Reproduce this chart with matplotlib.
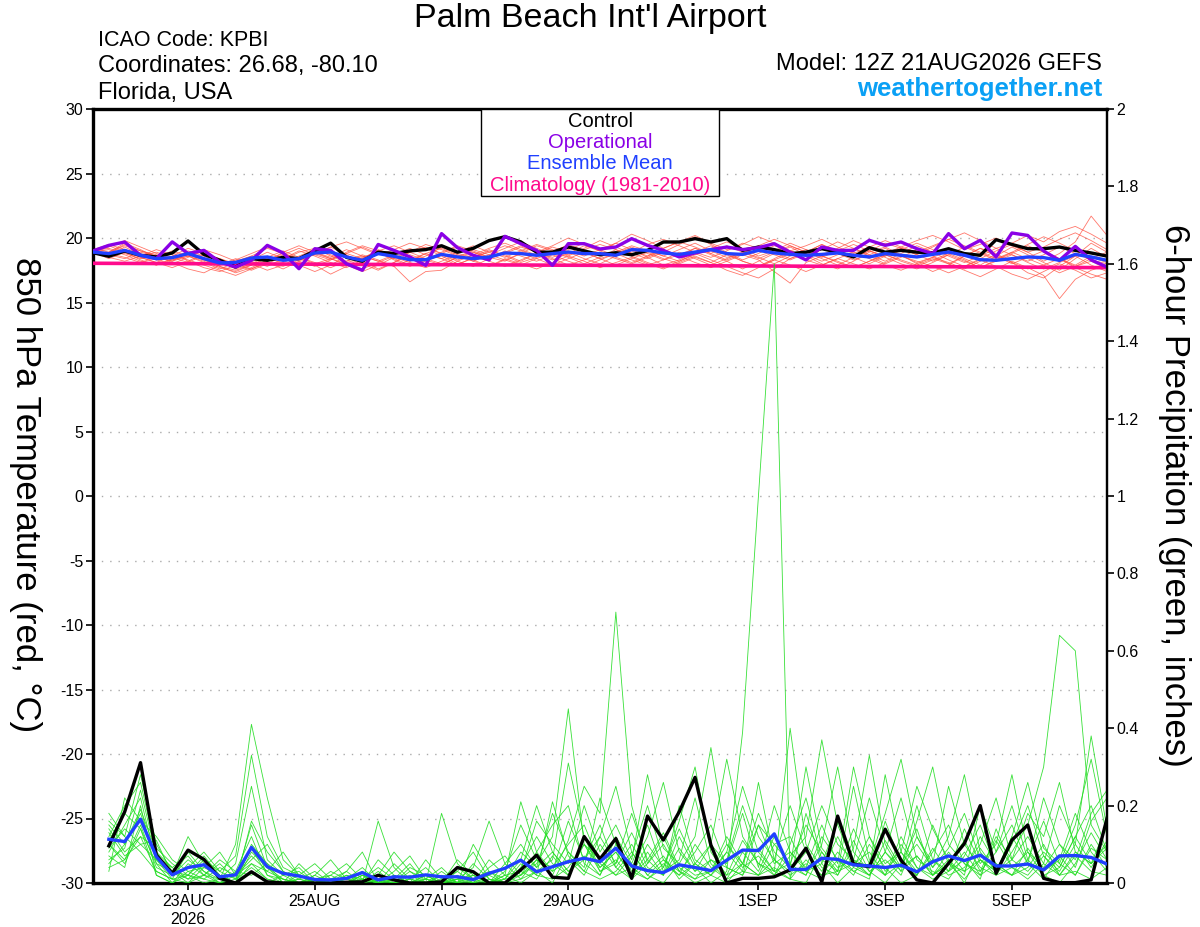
import numpy as np
import pandas as pd
import matplotlib
matplotlib.use("Agg")
import matplotlib.pyplot as plt
from matplotlib.patches import Rectangle

plt.rcParams['font.family'] = ['Liberation Sans', 'DejaVu Sans']

# ---------------- data ----------------
temp_times = pd.date_range("2026-08-21 12:00", periods=65, freq="6h")
precip_times = pd.date_range("2026-08-21 18:00", periods=64, freq="6h")
clim_times = pd.date_range("2026-08-21 12:00", periods=17, freq="24h")

tick_dates = pd.to_datetime(["2026-08-23", "2026-08-25", "2026-08-27", "2026-08-29",
                             "2026-09-01", "2026-09-03", "2026-09-05"])
tick_labels = ["23AUG\n2026", "25AUG", "27AUG", "29AUG", "1SEP", "3SEP", "5SEP"]

temp_control = [
    18.86, 18.58, 18.99, 18.66, 18.53, 18.84, 19.77, 18.73, 18.27, 17.75, 18.40, 18.27, 18.50,
    18.40, 19.00, 19.60, 18.50, 18.20, 18.90, 18.80, 19.00, 19.10, 19.40, 18.90, 19.20, 19.80,
    20.10, 19.70, 18.90, 18.90, 19.30, 19.00, 18.70, 18.86, 18.70, 19.04, 19.69, 19.69, 19.95,
    19.69, 19.95, 19.04, 19.30, 19.10, 18.79, 18.90, 19.17, 18.90, 18.53, 19.25, 18.90, 19.04,
    18.90, 18.84, 19.17, 18.79, 18.66, 19.87, 19.50, 19.17, 19.17, 19.30, 19.04, 18.84, 18.60]

temp_operational = [
    19.00, 19.43, 19.69, 18.66, 18.40, 19.70, 18.80, 19.04, 18.14, 17.75, 18.27, 19.43, 18.84,
    17.62, 19.17, 19.04, 18.00, 17.50, 19.50, 19.04, 18.53, 17.88, 20.34, 19.25, 18.66, 18.30,
    20.13, 19.56, 19.04, 17.88, 19.56, 19.56, 19.15, 19.30, 19.95, 19.43, 19.04, 18.53, 18.84,
    19.10, 19.30, 19.10, 19.25, 19.56, 18.90, 18.30, 19.30, 19.04, 19.04, 19.82, 19.43, 19.69,
    19.17, 18.79, 20.34, 19.17, 19.82, 18.53, 20.39, 20.20, 18.99, 18.27, 19.35, 18.30, 17.75]

temp_mean = [
    18.91, 18.79, 19.04, 18.66, 18.40, 18.48, 18.79, 18.40, 18.06, 18.11, 18.45, 18.53, 18.27,
    18.40, 18.84, 18.91, 18.53, 18.27, 18.79, 18.58, 18.32, 18.32, 18.73, 18.53, 18.40, 18.53,
    18.84, 18.79, 18.66, 18.79, 18.91, 18.79, 18.79, 18.66, 19.10, 19.04, 18.84, 18.73, 18.91,
    19.10, 18.79, 18.73, 19.04, 18.84, 18.73, 18.66, 18.73, 18.84, 18.66, 18.53, 18.79, 18.66,
    18.53, 18.73, 18.91, 18.66, 18.32, 18.27, 18.40, 18.53, 18.48, 18.27, 18.73, 18.53, 18.27]

temp_climatology = [18.04, 18.02, 18.00, 17.98, 17.96, 17.94, 17.92, 17.90, 17.88,
                    17.86, 17.84, 17.82, 17.80, 17.78, 17.76, 17.73, 17.70]

temp_member_01 = [
    18.8, 18.6, 19.3, 18.7, 18.3, 18.0, 18.5, 19.0, 18.2, 17.6, 18.0, 18.6, 18.3,
    18.9, 19.2, 18.6, 18.1, 18.4, 19.1, 18.7, 18.2, 18.6, 19.3, 18.8, 18.5, 18.9,
    19.4, 19.0, 18.6, 18.9, 19.5, 19.0, 18.7, 18.9, 19.4, 19.0, 18.6, 19.1, 19.6,
    19.0, 18.5, 18.8, 19.3, 18.9, 18.4, 18.9, 19.5, 18.8, 18.3, 18.7, 19.2, 18.6,
    18.1, 18.5, 19.0, 18.4, 17.9, 18.6, 19.3, 18.7, 18.1, 17.5, 18.4, 19.2, 18.5]
temp_member_02 = [
    19.0, 19.2, 18.8, 18.4, 18.6, 18.9, 18.2, 17.7, 17.4, 17.9, 18.5, 18.1, 17.6,
    18.2, 18.8, 19.3, 18.7, 18.0, 17.5, 18.1, 18.9, 19.2, 18.6, 18.0, 18.4, 19.0,
    18.7, 18.2, 18.8, 19.3, 18.9, 18.4, 18.0, 18.6, 19.1, 18.5, 17.9, 18.3, 18.9,
    19.4, 18.8, 18.2, 17.8, 18.4, 19.0, 18.6, 18.0, 17.6, 18.2, 18.9, 19.3, 18.7,
    18.0, 17.4, 17.9, 18.6, 19.2, 18.8, 18.1, 17.3, 16.9, 17.8, 18.6, 19.6, 18.9]
temp_member_03 = [
    18.7, 18.9, 19.6, 19.1, 18.5, 18.2, 18.9, 18.4, 17.8, 17.3, 17.7, 18.3, 18.8,
    18.4, 17.9, 17.2, 17.8, 18.5, 18.9, 18.3, 17.8, 18.3, 18.9, 19.4, 19.0, 18.5,
    18.2, 18.8, 19.4, 19.0, 18.6, 19.2, 19.8, 19.3, 18.8, 18.4, 18.9, 19.5, 20.1,
    19.5, 18.9, 18.3, 18.8, 19.4, 19.0, 18.6, 19.1, 19.7, 19.2, 18.7, 18.2, 18.8,
    19.4, 18.9, 18.3, 17.8, 18.4, 19.0, 19.5, 18.9, 18.2, 18.8, 19.7, 21.7, 20.2]
temp_member_04 = [
    18.9, 18.4, 18.9, 18.3, 17.9, 18.4, 19.0, 18.6, 18.0, 17.8, 18.3, 18.9, 18.4,
    17.9, 17.4, 17.9, 18.6, 18.2, 17.6, 18.1, 18.7, 18.3, 17.9, 18.5, 19.1, 18.7,
    18.3, 17.9, 18.4, 18.9, 18.5, 18.0, 18.5, 19.1, 18.6, 18.1, 17.7, 18.2, 18.8,
    18.3, 17.8, 17.3, 16.9, 17.6, 18.4, 18.9, 18.4, 17.9, 18.5, 19.0, 18.5, 18.0,
    17.6, 18.1, 18.7, 18.2, 17.7, 18.3, 18.9, 18.4, 17.9, 17.3, 17.8, 18.2, 17.6]
temp_member_05 = [
    19.1, 19.5, 19.1, 18.6, 18.9, 18.5, 18.1, 18.7, 18.4, 18.0, 17.6, 18.2, 18.9,
    19.4, 18.9, 18.4, 18.8, 19.3, 18.8, 18.4, 18.9, 19.5, 19.1, 18.6, 18.2, 18.7,
    19.2, 19.7, 19.2, 18.7, 19.1, 19.6, 19.1, 18.6, 18.9, 19.5, 19.9, 19.4, 18.9,
    18.5, 19.0, 19.6, 19.2, 18.7, 18.3, 18.8, 19.3, 18.9, 18.5, 19.0, 19.6, 19.2,
    18.7, 19.3, 19.9, 19.4, 18.9, 18.4, 18.9, 19.5, 20.1, 19.6, 19.0, 18.5, 18.1]
temp_member_06 = [
    18.8, 18.7, 18.4, 18.9, 18.6, 18.1, 17.6, 17.3, 17.9, 18.4, 18.0, 17.5, 17.9,
    18.5, 18.1, 17.7, 18.2, 18.7, 18.3, 17.8, 16.6, 17.4, 17.5, 18.2, 18.7, 18.2,
    17.8, 18.3, 18.8, 18.4, 17.9, 18.3, 18.8, 18.4, 18.0, 18.5, 19.0, 18.6, 18.1,
    17.7, 18.2, 18.7, 18.3, 17.4, 16.5, 18.1, 18.6, 18.2, 17.7, 18.2, 18.7, 18.3,
    17.9, 18.4, 18.0, 17.5, 17.0, 17.6, 18.2, 17.7, 17.1, 15.3, 16.8, 17.5, 17.9]
temp_member_07 = [
    19.2, 18.9, 19.4, 19.0, 18.7, 18.3, 18.6, 19.1, 18.7, 18.2, 18.6, 19.2, 18.8,
    18.3, 18.7, 19.3, 19.7, 19.2, 18.7, 19.1, 19.6, 19.2, 18.8, 19.3, 18.9, 18.4,
    18.8, 19.3, 18.9, 19.4, 20.0, 19.5, 19.0, 19.6, 20.3, 19.8, 19.2, 19.7, 20.2,
    19.6, 19.1, 19.5, 20.1, 19.6, 19.0, 19.4, 19.9, 19.3, 18.8, 19.3, 19.8, 19.3,
    18.9, 19.4, 19.9, 20.4, 19.8, 19.2, 19.6, 20.2, 19.7, 20.5, 20.9, 20.3, 19.6]
temp_member_08 = [
    18.9, 18.5, 18.2, 18.6, 19.1, 18.7, 18.3, 17.9, 17.5, 17.1, 17.6, 18.1, 17.8,
    18.3, 18.8, 18.4, 17.9, 17.4, 17.9, 18.5, 18.1, 17.7, 18.2, 18.7, 18.3, 17.8,
    18.4, 18.0, 17.6, 18.1, 18.6, 18.2, 17.7, 18.1, 18.5, 18.0, 17.6, 18.1, 18.6,
    18.1, 17.5, 17.1, 17.7, 18.3, 17.9, 17.4, 17.9, 18.4, 18.0, 17.6, 18.1, 18.6,
    18.2, 17.8, 17.3, 17.8, 18.3, 17.8, 17.2, 16.8, 17.4, 18.0, 17.5, 16.9, 17.3]
temp_member_09 = [
    18.9, 19.3, 19.8, 19.3, 18.8, 18.4, 18.8, 18.3, 17.9, 18.3, 18.8, 19.3, 18.8,
    18.4, 18.9, 18.5, 19.1, 18.6, 18.2, 18.7, 19.2, 18.7, 18.4, 18.9, 19.4, 18.9,
    18.5, 19.0, 19.5, 19.1, 18.7, 19.1, 19.5, 19.1, 18.6, 19.1, 18.6, 18.2, 18.7,
    19.2, 19.7, 19.2, 18.6, 19.0, 19.6, 19.1, 18.7, 19.2, 19.8, 19.3, 18.8, 19.3,
    19.8, 20.2, 19.7, 19.1, 19.5, 20.0, 19.4, 18.9, 19.3, 19.9, 20.4, 19.8, 19.1]
temp_member_10 = [
    18.8, 18.6, 19.0, 18.5, 18.1, 17.7, 18.2, 18.8, 18.3, 17.8, 18.2, 17.8, 18.4,
    19.0, 18.6, 18.1, 17.7, 18.3, 18.9, 18.4, 17.9, 18.2, 18.7, 18.2, 17.8, 18.4,
    19.0, 18.6, 18.2, 18.7, 18.2, 17.8, 18.3, 18.8, 18.3, 17.9, 18.3, 18.9, 18.4,
    17.9, 18.4, 18.9, 18.5, 18.0, 18.6, 19.1, 18.6, 18.1, 17.7, 18.2, 18.7, 18.2,
    17.8, 18.3, 18.8, 18.3, 17.7, 18.2, 18.7, 18.1, 17.6, 18.1, 18.6, 17.9, 17.4]
temp_member_11 = [
    19.0, 19.4, 18.9, 18.5, 18.1, 18.6, 19.2, 18.8, 18.4, 17.9, 17.5, 18.0, 18.6,
    18.2, 17.8, 18.3, 18.9, 19.4, 19.0, 18.5, 18.9, 19.3, 18.8, 18.3, 18.7, 19.2,
    19.6, 19.1, 18.7, 18.3, 18.8, 19.4, 19.0, 18.5, 18.1, 18.6, 19.2, 19.7, 19.3,
    18.8, 18.3, 18.8, 19.4, 19.9, 19.4, 18.9, 18.5, 19.0, 19.5, 19.0, 18.6, 19.1,
    19.6, 19.1, 18.6, 18.1, 18.6, 19.2, 18.7, 18.2, 18.7, 19.3, 18.8, 18.3, 18.0]
temp_member_12 = [
    18.9, 18.8, 18.5, 18.1, 18.5, 19.0, 18.6, 18.2, 17.7, 17.4, 17.9, 18.5, 19.0,
    18.5, 18.0, 18.4, 18.0, 17.6, 18.1, 18.6, 18.2, 18.8, 19.2, 18.7, 18.2, 17.8,
    18.3, 18.8, 18.4, 17.9, 18.4, 18.9, 18.4, 17.9, 18.4, 18.9, 18.4, 18.0, 18.5,
    18.1, 18.7, 18.2, 17.8, 18.3, 18.8, 18.3, 17.9, 18.4, 18.9, 18.4, 17.9, 17.5,
    18.0, 18.5, 18.1, 17.6, 18.2, 18.7, 18.1, 17.6, 17.9, 18.4, 17.7, 17.2, 16.8]
temp_member_13 = [
    18.9, 19.1, 18.7, 18.2, 17.9, 18.3, 18.7, 18.3, 17.8, 17.5, 17.9, 18.4, 18.1,
    18.6, 19.1, 18.7, 18.2, 18.6, 18.2, 17.8, 18.3, 18.8, 18.4, 17.9, 18.5, 19.1,
    18.6, 18.1, 18.5, 19.0, 19.4, 18.9, 18.4, 18.8, 19.3, 18.8, 18.3, 18.7, 19.2,
    18.7, 18.2, 17.6, 18.2, 18.8, 19.3, 18.7, 18.2, 18.7, 19.2, 18.6, 18.0, 18.5,
    19.1, 18.6, 18.0, 18.6, 19.2, 18.6, 18.0, 18.5, 19.0, 18.4, 17.8, 18.4, 18.9]
temp_member_14 = [
    19.1, 18.8, 19.5, 19.0, 18.6, 18.2, 18.6, 18.1, 17.6, 18.1, 18.6, 18.2, 18.7,
    19.2, 18.7, 18.3, 18.8, 18.4, 19.0, 19.4, 18.9, 18.4, 18.0, 18.5, 18.9, 18.5,
    18.9, 19.4, 18.9, 18.5, 19.0, 18.6, 19.1, 19.6, 19.1, 18.6, 19.1, 18.6, 19.2,
    18.8, 19.4, 18.9, 18.4, 18.9, 19.4, 18.9, 19.5, 19.0, 18.5, 18.0, 18.6, 19.2,
    18.7, 18.2, 18.7, 19.3, 18.8, 18.3, 18.8, 19.4, 18.9, 18.4, 17.9, 18.6, 18.2]

precip_control = [
    0.096, 0.184, 0.311, 0.072, 0.025, 0.085, 0.061, 0.012, 0.000, 0.029, 0.003, 0.000, 0.000, 0.000, 0.000, 0.002,
    0.003, 0.020, 0.008, 0.000, 0.000, 0.003, 0.040, 0.029, 0.000, 0.000, 0.034, 0.072, 0.015, 0.012, 0.120, 0.062,
    0.115, 0.012, 0.173, 0.111, 0.184, 0.273, 0.098, 0.000, 0.012, 0.012, 0.016, 0.034, 0.090, 0.003, 0.173, 0.049,
    0.042, 0.139, 0.059, 0.008, 0.000, 0.051, 0.102, 0.200, 0.025, 0.111, 0.150, 0.012, 0.001, 0.001, 0.008, 0.167]

precip_mean = [
    0.113, 0.107, 0.165, 0.068, 0.021, 0.040, 0.047, 0.016, 0.021, 0.092, 0.042, 0.025, 0.018, 0.009, 0.008, 0.012,
    0.027, 0.008, 0.016, 0.015, 0.021, 0.016, 0.016, 0.009, 0.025, 0.038, 0.059, 0.029, 0.042, 0.055, 0.064, 0.055,
    0.090, 0.044, 0.032, 0.027, 0.047, 0.040, 0.032, 0.059, 0.085, 0.084, 0.127, 0.035, 0.035, 0.064, 0.061, 0.047,
    0.044, 0.040, 0.046, 0.029, 0.055, 0.070, 0.058, 0.072, 0.044, 0.044, 0.049, 0.034, 0.070, 0.071, 0.066, 0.049]

precip_member_01 = [
    0.12, 0.20, 0.26, 0.08, 0.02, 0.06, 0.03, 0.00, 0.01, 0.15, 0.04, 0.00, 0.00, 0.01, 0.00, 0.00,
    0.02, 0.00, 0.01, 0.05, 0.00, 0.00, 0.03, 0.08, 0.01, 0.00, 0.04, 0.12, 0.05, 0.02, 0.10, 0.03,
    0.06, 0.01, 0.08, 0.02, 0.12, 0.04, 0.00, 0.03, 0.39, 1.00, 1.60, 0.01, 0.00, 0.08, 0.02, 0.11,
    0.03, 0.00, 0.05, 0.14, 0.02, 0.06, 0.00, 0.09, 0.03, 0.12, 0.05, 0.01, 0.07, 0.02, 0.10, 0.04]
precip_member_02 = [
    0.08, 0.15, 0.22, 0.05, 0.00, 0.02, 0.07, 0.02, 0.00, 0.05, 0.01, 0.00, 0.02, 0.00, 0.03, 0.01,
    0.00, 0.00, 0.02, 0.00, 0.06, 0.01, 0.00, 0.02, 0.00, 0.05, 0.10, 0.04, 0.08, 0.03, 0.06, 0.15,
    0.04, 0.10, 0.03, 0.07, 0.01, 0.05, 0.02, 0.00, 0.05, 0.15, 0.10, 0.12, 0.03, 0.01, 0.06, 0.02,
    0.10, 0.04, 0.00, 0.02, 0.08, 0.15, 0.05, 0.02, 0.11, 0.04, 0.08, 0.02, 0.00, 0.05, 0.13, 0.06]
precip_member_03 = [
    0.18, 0.12, 0.28, 0.10, 0.03, 0.00, 0.02, 0.05, 0.01, 0.09, 0.02, 0.01, 0.00, 0.00, 0.02, 0.05,
    0.01, 0.00, 0.00, 0.03, 0.01, 0.00, 0.06, 0.02, 0.00, 0.03, 0.15, 0.06, 0.02, 0.11, 0.25, 0.18,
    0.70, 0.20, 0.05, 0.12, 0.03, 0.08, 0.15, 0.04, 0.02, 0.09, 0.03, 0.01, 0.18, 0.05, 0.00, 0.04,
    0.12, 0.03, 0.08, 0.02, 0.15, 0.05, 0.01, 0.06, 0.03, 0.10, 0.20, 0.07, 0.02, 0.08, 0.05, 0.10]
precip_member_04 = [
    0.05, 0.10, 0.18, 0.06, 0.01, 0.08, 0.03, 0.01, 0.10, 0.41, 0.22, 0.06, 0.02, 0.00, 0.01, 0.00,
    0.03, 0.00, 0.00, 0.01, 0.04, 0.00, 0.02, 0.00, 0.01, 0.00, 0.02, 0.05, 0.12, 0.45, 0.10, 0.04,
    0.08, 0.02, 0.06, 0.13, 0.04, 0.01, 0.03, 0.10, 0.05, 0.02, 0.06, 0.20, 0.08, 0.03, 0.12, 0.04,
    0.02, 0.08, 0.22, 0.06, 0.03, 0.01, 0.07, 0.15, 0.04, 0.02, 0.09, 0.03, 0.06, 0.18, 0.08, 0.03]
precip_member_05 = [
    0.10, 0.06, 0.15, 0.04, 0.02, 0.12, 0.05, 0.02, 0.00, 0.16, 0.08, 0.03, 0.01, 0.00, 0.00, 0.02,
    0.00, 0.06, 0.02, 0.00, 0.01, 0.04, 0.00, 0.10, 0.03, 0.01, 0.06, 0.20, 0.08, 0.03, 0.07, 0.02,
    0.12, 0.05, 0.15, 0.03, 0.06, 0.22, 0.05, 0.01, 0.08, 0.03, 0.12, 0.04, 0.02, 0.10, 0.30, 0.08,
    0.03, 0.06, 0.02, 0.12, 0.05, 0.25, 0.10, 0.04, 0.02, 0.08, 0.15, 0.30, 0.64, 0.60, 0.15, 0.08]
precip_member_06 = [
    0.14, 0.08, 0.12, 0.09, 0.05, 0.02, 0.06, 0.03, 0.07, 0.33, 0.12, 0.04, 0.02, 0.05, 0.01, 0.00,
    0.00, 0.02, 0.08, 0.03, 0.00, 0.01, 0.03, 0.00, 0.04, 0.07, 0.02, 0.06, 0.04, 0.10, 0.15, 0.05,
    0.02, 0.07, 0.20, 0.06, 0.02, 0.05, 0.10, 0.32, 0.12, 0.05, 0.02, 0.07, 0.12, 0.37, 0.15, 0.05,
    0.08, 0.02, 0.05, 0.10, 0.04, 0.12, 0.28, 0.08, 0.03, 0.06, 0.12, 0.05, 0.20, 0.10, 0.38, 0.14]
precip_member_07 = [
    0.03, 0.22, 0.16, 0.12, 0.06, 0.03, 0.01, 0.04, 0.02, 0.06, 0.10, 0.03, 0.00, 0.02, 0.06, 0.01,
    0.00, 0.16, 0.04, 0.00, 0.02, 0.00, 0.01, 0.04, 0.16, 0.05, 0.01, 0.03, 0.06, 0.31, 0.12, 0.03,
    0.05, 0.13, 0.04, 0.02, 0.09, 0.03, 0.06, 0.02, 0.11, 0.05, 0.03, 0.40, 0.10, 0.04, 0.02, 0.09,
    0.33, 0.10, 0.03, 0.07, 0.02, 0.05, 0.11, 0.03, 0.08, 0.20, 0.06, 0.02, 0.04, 0.12, 0.05, 0.09]
precip_member_08 = [
    0.07, 0.04, 0.20, 0.02, 0.00, 0.05, 0.02, 0.00, 0.03, 0.12, 0.02, 0.00, 0.05, 0.01, 0.00, 0.03,
    0.08, 0.00, 0.01, 0.00, 0.00, 0.18, 0.05, 0.01, 0.00, 0.02, 0.21, 0.08, 0.03, 0.06, 0.02, 0.10,
    0.04, 0.01, 0.05, 0.10, 0.03, 0.00, 0.02, 0.06, 0.20, 0.08, 0.03, 0.05, 0.02, 0.12, 0.06, 0.03,
    0.01, 0.16, 0.05, 0.02, 0.09, 0.03, 0.06, 0.01, 0.14, 0.04, 0.02, 0.07, 0.03, 0.10, 0.04, 0.11]
precip_member_09 = [
    0.16, 0.12, 0.08, 0.03, 0.01, 0.00, 0.04, 0.08, 0.02, 0.05, 0.03, 0.08, 0.02, 0.00, 0.00, 0.01,
    0.00, 0.03, 0.00, 0.02, 0.00, 0.00, 0.00, 0.01, 0.03, 0.00, 0.05, 0.02, 0.01, 0.04, 0.10, 0.06,
    0.02, 0.04, 0.01, 0.05, 0.02, 0.10, 0.04, 0.01, 0.03, 0.26, 0.06, 0.02, 0.05, 0.02, 0.08, 0.03,
    0.05, 0.02, 0.12, 0.04, 0.01, 0.03, 0.08, 0.02, 0.05, 0.02, 0.04, 0.10, 0.02, 0.07, 0.03, 0.02]
precip_member_10 = [
    0.11, 0.18, 0.14, 0.05, 0.03, 0.02, 0.00, 0.01, 0.05, 0.25, 0.06, 0.02, 0.03, 0.00, 0.01, 0.00,
    0.01, 0.00, 0.03, 0.07, 0.01, 0.00, 0.01, 0.00, 0.00, 0.01, 0.02, 0.08, 0.15, 0.20, 0.05, 0.02,
    0.10, 0.03, 0.01, 0.04, 0.14, 0.05, 0.02, 0.08, 0.03, 0.02, 0.10, 0.05, 0.15, 0.08, 0.03, 0.25,
    0.06, 0.02, 0.10, 0.04, 0.02, 0.08, 0.03, 0.12, 0.05, 0.02, 0.06, 0.16, 0.05, 0.02, 0.09, 0.06]
precip_member_11 = [
    0.06, 0.09, 0.24, 0.07, 0.04, 0.01, 0.05, 0.02, 0.00, 0.08, 0.04, 0.01, 0.00, 0.02, 0.00, 0.00,
    0.02, 0.01, 0.00, 0.00, 0.02, 0.00, 0.00, 0.03, 0.00, 0.02, 0.00, 0.03, 0.00, 0.08, 0.03, 0.01,
    0.03, 0.08, 0.02, 0.00, 0.05, 0.02, 0.03, 0.12, 0.05, 0.02, 0.04, 0.01, 0.06, 0.02, 0.03, 0.05,
    0.02, 0.11, 0.04, 0.07, 0.02, 0.05, 0.03, 0.06, 0.02, 0.04, 0.01, 0.05, 0.02, 0.03, 0.01, 0.04]
precip_member_12 = [
    0.13, 0.07, 0.10, 0.11, 0.02, 0.04, 0.08, 0.03, 0.01, 0.04, 0.01, 0.00, 0.01, 0.03, 0.00, 0.02,
    0.01, 0.00, 0.05, 0.01, 0.00, 0.03, 0.00, 0.00, 0.02, 0.04, 0.06, 0.02, 0.21, 0.07, 0.03, 0.12,
    0.25, 0.08, 0.02, 0.06, 0.03, 0.01, 0.06, 0.04, 0.02, 0.15, 0.05, 0.08, 0.03, 0.05, 0.16, 0.06,
    0.04, 0.28, 0.08, 0.03, 0.06, 0.02, 0.04, 0.10, 0.22, 0.06, 0.03, 0.08, 0.04, 0.12, 0.20, 0.08]
precip_member_13 = [
    0.04, 0.06, 0.12, 0.03, 0.01, 0.02, 0.01, 0.00, 0.02, 0.07, 0.03, 0.01, 0.00, 0.01, 0.02, 0.00,
    0.01, 0.04, 0.01, 0.00, 0.00, 0.02, 0.00, 0.00, 0.06, 0.02, 0.03, 0.16, 0.10, 0.05, 0.20, 0.08,
    0.15, 0.06, 0.28, 0.09, 0.05, 0.12, 0.35, 0.10, 0.04, 0.07, 0.02, 0.10, 0.22, 0.06, 0.03, 0.14,
    0.05, 0.18, 0.32, 0.12, 0.04, 0.09, 0.18, 0.06, 0.03, 0.12, 0.26, 0.09, 0.05, 0.15, 0.32, 0.12]
precip_member_14 = [
    0.09, 0.14, 0.10, 0.06, 0.03, 0.01, 0.02, 0.06, 0.03, 0.02, 0.05, 0.02, 0.00, 0.00, 0.01, 0.03,
    0.00, 0.01, 0.00, 0.04, 0.02, 0.00, 0.01, 0.02, 0.00, 0.01, 0.08, 0.04, 0.18, 0.08, 0.04, 0.22,
    0.10, 0.04, 0.12, 0.26, 0.08, 0.03, 0.10, 0.05, 0.18, 0.04, 0.20, 0.08, 0.04, 0.15, 0.05, 0.30,
    0.12, 0.05, 0.08, 0.25, 0.14, 0.06, 0.02, 0.20, 0.08, 0.15, 0.05, 0.22, 0.10, 0.04, 0.16, 0.22]
precip_member_15 = [
    0.15, 0.10, 0.19, 0.08, 0.04, 0.07, 0.02, 0.01, 0.00, 0.03, 0.00, 0.02, 0.04, 0.00, 0.00, 0.01,
    0.04, 0.00, 0.02, 0.00, 0.01, 0.00, 0.04, 0.01, 0.02, 0.00, 0.01, 0.06, 0.03, 0.16, 0.06, 0.12,
    0.05, 0.18, 0.06, 0.02, 0.20, 0.06, 0.03, 0.08, 0.25, 0.12, 0.06, 0.03, 0.08, 0.20, 0.10, 0.06,
    0.22, 0.08, 0.03, 0.16, 0.30, 0.10, 0.05, 0.03, 0.12, 0.06, 0.18, 0.12, 0.26, 0.08, 0.05, 0.15]
precip_member_16 = [
    0.10, 0.05, 0.14, 0.02, 0.00, 0.03, 0.04, 0.02, 0.00, 0.10, 0.05, 0.00, 0.01, 0.00, 0.00, 0.00,
    0.02, 0.00, 0.00, 0.01, 0.00, 0.02, 0.00, 0.05, 0.01, 0.00, 0.03, 0.01, 0.07, 0.02, 0.12, 0.04,
    0.08, 0.02, 0.10, 0.04, 0.16, 0.30, 0.08, 0.02, 0.05, 0.18, 0.08, 0.04, 0.30, 0.09, 0.04, 0.06,
    0.02, 0.08, 0.04, 0.20, 0.06, 0.03, 0.14, 0.05, 0.10, 0.28, 0.08, 0.04, 0.10, 0.06, 0.18, 0.24]

temp_members = [temp_member_01, temp_member_02, temp_member_03, temp_member_04,
                temp_member_05, temp_member_06, temp_member_07, temp_member_08,
                temp_member_09, temp_member_10, temp_member_11, temp_member_12,
                temp_member_13, temp_member_14]
precip_members = [precip_member_01, precip_member_02, precip_member_03, precip_member_04,
                  precip_member_05, precip_member_06, precip_member_07, precip_member_08,
                  precip_member_09, precip_member_10, precip_member_11, precip_member_12,
                  precip_member_13, precip_member_14, precip_member_15, precip_member_16]

# ---------------- figure ----------------
W, H = 1200, 927
fig = plt.figure(figsize=(W / 100, H / 100), dpi=100)
L, R, T, B = 93, 1107, 109, 883
ax = fig.add_axes([L / W, 1 - B / H, (R - L) / W, (B - T) / H])
ax2 = ax.twinx()

c_red = '#ff4a3a'
c_green = '#22dd22'
c_control = '#000000'
c_oper = '#8a00e6'
c_mean = '#2040ff'
c_clim = '#ff0a8c'

for m in temp_members:
    ax.plot(temp_times, m, color=c_red, lw=0.6, alpha=0.75, zorder=2)
ax.plot(clim_times, temp_climatology, color=c_clim, lw=2.6, zorder=3, solid_capstyle='butt')
ax.plot(temp_times, temp_control, color=c_control, lw=2.4, zorder=4)
ax.plot(temp_times, temp_operational, color=c_oper, lw=2.4, zorder=5)
ax.plot(temp_times, temp_mean, color=c_mean, lw=2.4, zorder=6)

for m in precip_members:
    ax2.plot(precip_times, m, color=c_green, lw=0.6, alpha=0.9, zorder=2)
ax2.plot(precip_times, precip_control, color=c_control, lw=2.4, zorder=4)
ax2.plot(precip_times, precip_mean, color=c_mean, lw=2.4, zorder=5)

x0 = pd.Timestamp("2026-08-21 12:00")
x1 = pd.Timestamp("2026-09-06 12:00")
ax.set_xlim(x0, x1)
ax.set_ylim(-30, 30)
ax2.set_ylim(0, 2)

ax.set_yticks(np.arange(-30, 31, 5))
ax.set_yticklabels([str(v) for v in range(-30, 31, 5)])
ax2.set_yticks(np.arange(0, 2.01, 0.2))
ax2.set_yticklabels(['0', '0.2', '0.4', '0.6', '0.8', '1', '1.2', '1.4', '1.6', '1.8', '2'])
ax.set_xticks(tick_dates)
ax.set_xticklabels(tick_labels)

ax.yaxis.grid(True, linestyle=(0, (1, 5)), color='#aaaaaa', lw=1.0, zorder=0)
ax.set_axisbelow(True)

ax.tick_params(axis='y', direction='out', length=5, width=1.2, labelsize=11.5, pad=2)
ax.tick_params(axis='x', direction='out', length=5, width=1.2, labelsize=11.5, pad=3)
ax2.tick_params(axis='y', direction='out', length=5, width=1.2, labelsize=11.5, pad=2)

for sp in ['left', 'top', 'bottom']:
    ax.spines[sp].set_linewidth(2.4)
ax.spines['right'].set_linewidth(1.6)
for sp in ax2.spines.values():
    sp.set_visible(False)
ax2.spines['right'].set_visible(True)
ax2.spines['right'].set_linewidth(1.6)

# legend box
lb_x0 = (481 - L) / (R - L)
lb_x1 = (719 - L) / (R - L)
lb_y0 = (B - 196) / (B - T)
ax2.add_patch(Rectangle((lb_x0, lb_y0), lb_x1 - lb_x0, 1 - lb_y0, transform=ax2.transAxes,
                        facecolor='white', edgecolor='black', lw=1.0, zorder=10, clip_on=False))
leg_items = [("Control", c_control, 121), ("Operational", c_oper, 142),
             ("Ensemble Mean", c_mean, 163), ("Climatology (1981-2010)", c_clim, 185)]
for txt, col, ypx in leg_items:
    ax2.text(0.5 * (lb_x0 + lb_x1), (B - ypx) / (B - T), txt, color=col, fontsize=14.5,
             ha='center', va='center', transform=ax2.transAxes, zorder=11)

# titles / info
fig.text(590 / W, 1 - 18 / H, "Palm Beach Int'l Airport", fontsize=24.5, ha='center', va='center')
fig.text(98 / W, 1 - 40 / H, "ICAO Code: KPBI", fontsize=15.5, ha='left', va='center')
fig.text(98 / W, 1 - 66 / H, "Coordinates: 26.68, -80.10", fontsize=17, ha='left', va='center')
fig.text(98 / W, 1 - 93 / H, "Florida, USA", fontsize=17, ha='left', va='center')
fig.text(1102 / W, 1 - 64 / H, "Model: 12Z 21AUG2026 GEFS", fontsize=17, ha='right', va='center')
fig.text(1102 / W, 1 - 89 / H, "weathertogether.net", fontsize=18.5, ha='right', va='center',
         color='#0aa0f5', fontweight='bold')

fig.text(25 / W, 1 - 495 / H, "850 hPa Temperature (red, \u00b0C)", fontsize=25,
         rotation=-90, ha='center', va='center')
fig.text(1175 / W, 1 - 495 / H, "6-hour Precipitation (green, inches)", fontsize=25,
         rotation=-90, ha='center', va='center')

fig.savefig("out.png", dpi=100)
